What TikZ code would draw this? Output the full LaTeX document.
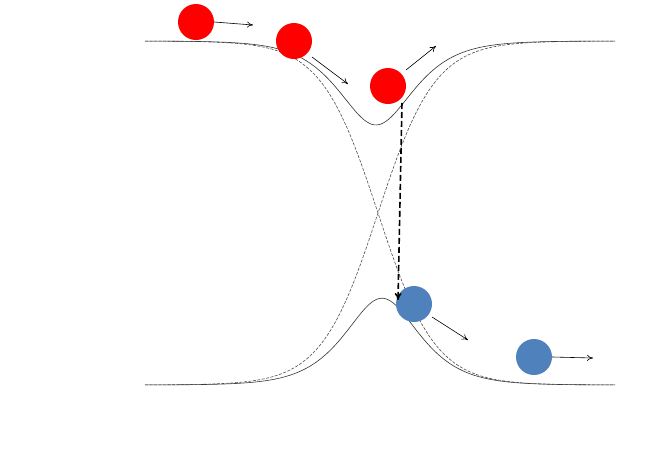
\documentclass[tikz,border=0pt]{standalone}
\usetikzlibrary{arrows.meta}
\begin{document}
\begin{tikzpicture}[x=1pt,y=-1pt,
  curve/.style={line width=0.6pt,black!80},
  dcurve/.style={line width=0.6pt,black!70,dash pattern=on 3pt off 1.5pt},
  redball/.style={circle,fill=red,minimum size=36pt,inner sep=0pt},
  blueball/.style={circle,fill={rgb,255:red,79;green,129;blue,189},minimum size=36pt,inner sep=0pt},
  mv/.style={-{To[length=6pt,width=6pt]},line width=0.6pt}]
\useasboundingbox (0,0) rectangle (665,464);
\draw[curve] plot[domain=145:615,samples=200] (\x,{213-172*sqrt((tanh((\x-376)/57))^2+0.355)/sqrt(1.355)});
\draw[curve] plot[domain=145:615,samples=200] (\x,{213+172*sqrt((tanh((\x-382)/57))^2+0.325)/sqrt(1.325)});
\draw[dcurve] plot[domain=145:615,samples=150] (\x,{213+172*tanh((\x-378)/57)});
\draw[dcurve] plot[domain=145:615,samples=150] (\x,{213-172*tanh((\x-378)/57)});
\node[redball] (r1) at (196,22) {};
\node[redball] (r2) at (294,41) {};
\node[redball] (r3) at (388,86) {};
\node[blueball] (b1) at (414,304) {};
\node[blueball] (b2) at (534,357) {};
\coordinate (a1) at (253,25);
\coordinate (a2) at (348,84);
\coordinate (a3) at (436,46);
\coordinate (a4) at (468,340);
\coordinate (a5) at (593,358);
\coordinate (s) at (402,103);
\coordinate (t) at (398,300);
\draw[mv] (r1.east) -- (a1);
\draw[mv] (312,57) -- (a2);
\draw[mv] (406,70) -- (a3);
\draw[mv] (432,317) -- (a4);
\draw[mv] (b2.east) -- (a5);
\draw[-{To[length=7pt,width=7pt]},line width=1.6pt,dash pattern=on 6pt off 3pt] (s) -- (t);
\end{tikzpicture}
\end{document}
